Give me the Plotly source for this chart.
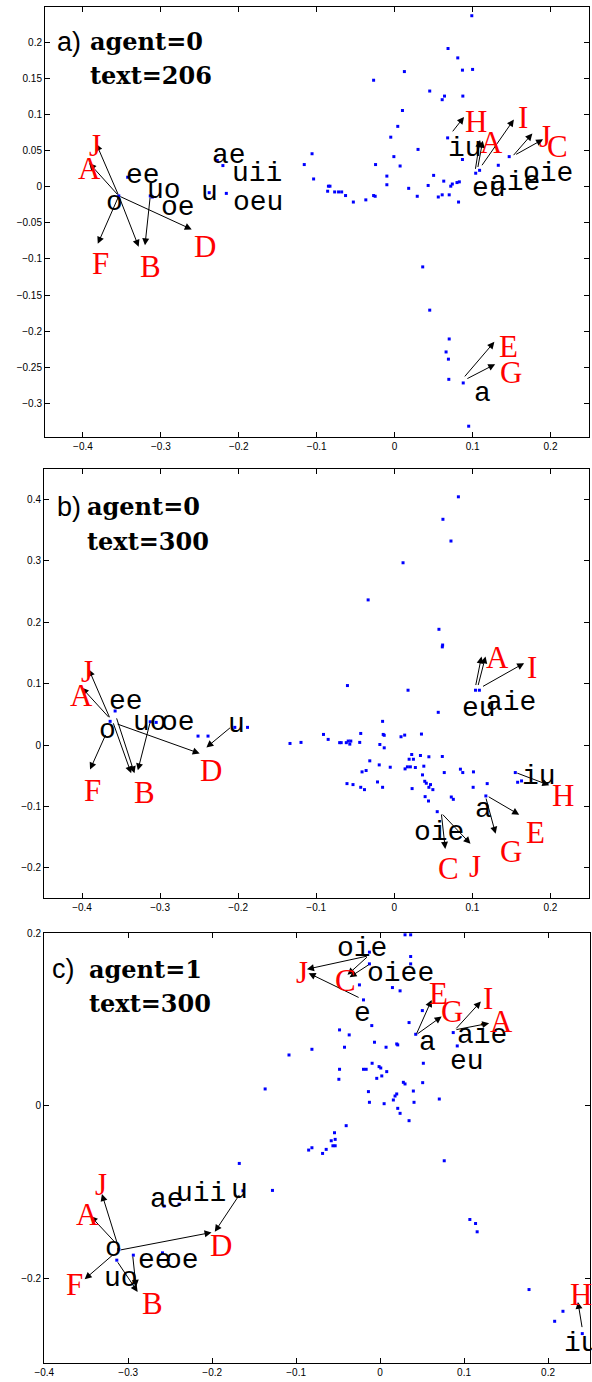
import plotly.graph_objects as go

# ---------------- DATA ----------------
# Panel a) agent=0 text=206
a_pts_x = [0.099, 0.0685, 0.081, 0.087, 0.100, 0.0125, -0.027, 0.045, 0.061, 0.064, 0.0875, 0.010, 0.004, -0.005,
           0.068, 0.030, -0.106, -0.001, -0.116, -0.0245, 0.087, 0.007, 0.133, 0.147, 0.109, 0.104, -0.104, -0.010,
           -0.010, 0.050, 0.063, 0.083, 0.080, 0.074, 0.072, 0.043, 0.018, -0.085, -0.083, -0.086, -0.077, -0.072,
           -0.068, -0.063, -0.053, -0.037, -0.027, -0.025, 0.029, 0.056, 0.061, 0.070, 0.082, 0.036, 0.045, 0.070,
           0.066, 0.069, 0.0695, 0.088, 0.095,
           -0.354, -0.3426, -0.3136, -0.311, -0.2277, -0.2204, -0.238, -0.216]
a_pts_y = [0.2375, 0.192, 0.179, 0.162, 0.163, 0.160, 0.148, 0.133, 0.121, 0.126, 0.126, 0.106, 0.084, 0.069,
           0.068, 0.052, 0.046, 0.042, 0.031, 0.031, 0.038, 0.029, 0.030, 0.042, 0.023, 0.019, 0.011, 0.015,
           0.003, 0.016, 0.008, 0.007, 0.006, 0.004, 0.001, 0.002, -0.002, 0.001, 0.001, -0.006, -0.007, -0.007,
           -0.007, -0.012, -0.021, -0.018, -0.012, -0.013, -0.013, -0.014, -0.011, -0.011, -0.021, -0.111, -0.171, -0.211,
           -0.229, -0.239, -0.267, -0.272, -0.332,
           -0.0125, 0.0134, -0.0125, -0.014, 0.0366, 0.0296, -0.008, -0.009]
a_lab_text = ["o", "ee", "uo", "oe", "ae", "uii", "u", "oeu", "iu", "eu", "aie", "oie", "a"]
a_lab_x = [-0.359, -0.323, -0.2957, -0.278, -0.2128, -0.1766, -0.2374, -0.1757, 0.090, 0.1216, 0.154, 0.197, 0.113]
a_lab_y = [-0.021, 0.016, -0.0056, -0.028, 0.044, 0.0185, -0.008, -0.021, 0.053, -0.002, 0.0056, 0.0185, -0.286]
a_red_text = ["J", "A", "F", "B", "D", "H", "A", "I", "J", "C", "E", "G"]
a_red_x = [-0.384, -0.392, -0.378, -0.3128, -0.2438, 0.105, 0.1246, 0.1647, 0.1935, 0.2086, 0.146, 0.1496]
a_red_y = [0.057, 0.025, -0.106, -0.111, -0.083, 0.091, 0.061, 0.096, 0.070, 0.0556, -0.221, -0.258]
a_arr_x0 = [-0.354, -0.354, -0.354, -0.354, -0.3136, -0.354, 0.073, 0.1034, 0.1065, 0.1108, 0.151, 0.154, 0.0884, 0.0914]
a_arr_y0 = [-0.0125, -0.0125, -0.0125, -0.0125, -0.0125, -0.0125, 0.075, 0.023, 0.0255, 0.028, 0.042, 0.044, -0.265, -0.267]
a_arr_x1 = [-0.383, -0.392, -0.381, -0.3285, -0.3204, -0.2604, 0.089, 0.1095, 0.113, 0.153, 0.1767, 0.1905, 0.128, 0.129]
a_arr_y1 = [0.060, 0.033, -0.079, -0.083, -0.081, -0.059, 0.097, 0.065, 0.064, 0.0935, 0.074, 0.066, -0.215, -0.246]

# Panel b) agent=0 text=300
b_pts_x = [-0.364, -0.3576, -0.3126, -0.305, -0.2514, -0.2386, -0.2043, -0.188, -0.1336,
           0.0821, 0.0623, 0.0726, 0.0112, -0.0335, 0.0572, 0.0619, 0.0615, -0.060, 0.0176, 0.104, 0.109, 0.0563,
           -0.1195, -0.015, -0.0907, -0.0847, -0.070, -0.068, -0.0615, -0.059, -0.0557, -0.057, -0.043, -0.0443,
           -0.0142, -0.0129, -0.0185, -0.0129, 0.0086, 0.0133, 0.0348, -0.0314, 0.0223, 0.019, 0.0245, 0.0335,
           0.0443, 0.0615, -0.0193, -0.0052, -0.0413, -0.0361, 0.0138, 0.0168, 0.0206, 0.027, 0.0378, 0.064,
           0.0847, 0.0877, 0.1014, 0.0361, 0.155, -0.0215, -0.015, -0.0606, -0.0529, -0.043, -0.0382, 0.039,
           0.041, 0.0464, 0.0443, 0.0494, 0.0228, 0.119, 0.101, 0.158, 0.163, 0.0395, 0.0438, 0.073, 0.0756,
           0.1173, 0.055]
b_pts_y = [0.0387, 0.0556, 0.038, 0.037, 0.0147, 0.0147, 0.0289, 0.0289, 0.0027,
           0.4044, 0.3678, 0.3324, 0.297, 0.2365, 0.1886, 0.163, 0.16, 0.097, 0.0894, 0.0894, 0.0894, 0.0534,
           0.0044, 0.0387, 0.0174, 0.0093, 0.004, 0.004, 0.004, 0.0066, 0.0066, 0.0016, 0.019, 0.0044,
           0.0174, 0.016, 0.001, -0.0044, 0.0136, 0.0163, 0.018, -0.0256, -0.0153, -0.023, -0.023, -0.0169,
           -0.019, -0.0185, -0.0322, -0.036, -0.0436, -0.0414, -0.0387, -0.0354, -0.0354, -0.0365, -0.0343, -0.0447,
           -0.0392, -0.0447, -0.0436, -0.0485, -0.0447, -0.06, -0.0687, -0.0627, -0.0643, -0.0687, -0.0725, -0.0589,
           -0.0621, -0.0643, -0.0687, -0.0725, -0.0708, -0.0627, -0.0687, -0.0605, -0.0583, -0.0839, -0.091, -0.0845, -0.0883,
           -0.0828, -0.1084]
b_lab_text = ["o", "ee", "uo", "oe", "u", "eu", "aie", "iu", "a", "oie"]
b_lab_x = [-0.368, -0.3443, -0.3135, -0.2771, -0.2021, 0.109, 0.149, 0.1848, 0.1139, 0.0567]
b_lab_y = [0.0245, 0.0708, 0.0365, 0.0365, 0.034, 0.060, 0.069, -0.0507, -0.105, -0.1428]
b_red_text = ["J", "A", "F", "B", "D", "A", "I", "H", "E", "G", "C", "J"]
b_red_x = [-0.394, -0.4004, -0.386, -0.320, -0.2343, 0.132, 0.177, 0.2157, 0.1813, 0.149, 0.0696, 0.104]
b_red_y = [0.12, 0.080, -0.0736, -0.077, -0.041, 0.1428, 0.127, -0.0828, -0.1428, -0.1738, -0.201, -0.1978]
b_arr_x0 = [-0.364, -0.364, -0.369, -0.3606, -0.3563, -0.3126, -0.3563, -0.2086, 0.104, 0.107, 0.1117, 0.1556, 0.119, 0.117, 0.0602, 0.0602]
b_arr_y0 = [0.043, 0.043, 0.019, 0.038, 0.046, 0.038, 0.035, 0.030, 0.0954, 0.0954, 0.0943, -0.0447, -0.0828, -0.0845, -0.1106, -0.1106]
b_arr_x1 = [-0.3914, -0.4004, -0.3897, -0.337, -0.3328, -0.3285, -0.2493, -0.2407, 0.1117, 0.1169, 0.1663, 0.1985, 0.16, 0.1298, 0.0653, 0.0976]
b_arr_y1 = [0.1237, 0.0937, -0.0398, -0.046, -0.046, -0.041, -0.0136, -0.0038, 0.1444, 0.1444, 0.1335, -0.0654, -0.1133, -0.1444, -0.169, -0.1608]

# Panel c) agent=1 text=300
c_pts_x = [-0.1085, -0.1369, -0.1677, -0.1633, -0.1282, -0.2572, -0.2394, -0.3112, -0.3136, -0.2939, -0.2592,
           0.0297, 0.0364, -0.0127, 0.0364, 0.0364, -0.0127, -0.0246, 0.0147, 0.0238, -0.0198, 0.0503, 0.0345,
           -0.0483, -0.0099, -0.0368, 0.0424, 0.0871, 0.0919, -0.0067, 0.0198, 0.021, 0.0071, -0.0424, -0.0812,
           -0.0095, -0.0012, 0.0008, 0.0515, -0.0483, -0.0198, -0.0166, 0.0079, -0.004, 0.002, -0.0491, 0.0277,
           0.0297, 0.0507, -0.0139, 0.0396, 0.0198, 0.0178, 0.0705, 0.0158, -0.0127, 0.0048, 0.0404, 0.021,
           0.0238, 0.0345, -0.0404, -0.0543, -0.0582, -0.0535, -0.0562, -0.0535, -0.0812, -0.0851, -0.0642,
           -0.0685, 0.0764, 0.1069, 0.1137, 0.1156, 0.1774, 0.2178, 0.2079, 0.2408]
c_pts_y = [0.0588, 0.0194, -0.067, -0.0987, -0.0983, -0.1165, -0.1142, -0.1669, -0.1792, -0.1734, -0.1707,
           0.1982, 0.1982, 0.1781, 0.173, 0.1645, 0.1645, 0.1401, 0.137, 0.1332, 0.1227, 0.1103, 0.0964,
           0.0879, 0.0929, 0.0821, 0.0828, 0.0848, 0.0693, 0.0736, 0.0716, 0.0705, 0.0678, 0.0678, 0.0654,
           0.0492, 0.0453, 0.0437, 0.0492, 0.0422, 0.0422, 0.0422, 0.0395, 0.0317, 0.0345, 0.0306, 0.0271,
           0.0252, 0.0267, 0.0163, 0.017, 0.0136, 0.0112, 0.0077, 0.0066, 0.0039, 0.0023, 0.0039, -0.0031,
           -0.0089, -0.0174, -0.0232, -0.0314, -0.0407, -0.0391, -0.0465, -0.0465, -0.0488, -0.0515, -0.0507,
           -0.0554, -0.0639, -0.132, -0.1367, -0.1463, -0.2133, -0.2385, -0.2501, -0.2644]
c_lab_text = ["ae", "uii", "u", "o", "ee", "oe", "uo", "oie", "oiee", "e", "a", "aie", "eu", "iu"]
c_lab_x = [-0.2544, -0.213, -0.1677, -0.3176, -0.2679, -0.2363, -0.3085, -0.021, 0.0242, -0.021, 0.0562, 0.1216, 0.1038, 0.239]
c_lab_y = [-0.1084, -0.1018, -0.098, -0.1657, -0.1792, -0.18, -0.2005, 0.182, 0.1529, 0.1072, 0.0728, 0.0809, 0.0511, -0.2753]
c_red_text = ["J", "A", "D", "F", "B", "J", "C", "E", "G", "I", "A", "H"]
c_red_x = [-0.3321, -0.348, -0.189, -0.3637, -0.271, -0.0931, -0.0416, 0.0693, 0.0859, 0.1283, 0.1446, 0.2396]
c_red_y = [-0.0914, -0.1258, -0.1626, -0.2071, -0.2292, 0.1545, 0.1448, 0.1297, 0.1092, 0.1247, 0.0972, -0.2187]
c_arr_x0 = [-0.3124, -0.3144, -0.3164, -0.3105, -0.1665, -0.3136, -0.2947, -0.0139, -0.0139, -0.0119, -0.0238, 0.0428, 0.0428, 0.0891, 0.0891, 0.2408]
c_arr_y0 = [-0.1618, -0.1599, -0.1715, -0.1676, -0.1018, -0.18, -0.1734, 0.1738, 0.1738, 0.1645, 0.1247, 0.0821, 0.0821, 0.0879, 0.0879, -0.2586]
c_arr_x1 = [-0.3313, -0.3448, -0.3519, -0.2008, -0.1969, -0.2888, -0.2907, -0.0871, -0.0388, -0.0364, -0.0851, 0.0614, 0.0733, 0.12, 0.1299, 0.2356]
c_arr_y1 = [-0.1026, -0.1281, -0.2013, -0.1471, -0.1463, -0.216, -0.2102, 0.1583, 0.1518, 0.149, 0.1537, 0.1227, 0.1034, 0.1208, 0.0956, -0.2276]

# panel titles
titles_tag = ["a)", "b)", "c)"]
titles_agent = ["agent=0", "agent=0", "agent=1"]
titles_text = ["text=206", "text=300", "text=300"]

# tick labels
x_ticks_ab = [-0.4, -0.3, -0.2, -0.1, 0, 0.1, 0.2]
x_ticktext = ["\u22120.4", "\u22120.3", "\u22120.2", "\u22120.1", "0", "0.1", "0.2"]
a_yticks = [-0.3, -0.25, -0.2, -0.15, -0.1, -0.05, 0, 0.05, 0.1, 0.15, 0.2]
a_yticktext = ["\u22120.3", "\u22120.25", "\u22120.2", "\u22120.15", "\u22120.1", "\u22120.05", "0", "0.05", "0.1", "0.15", "0.2"]
b_yticks = [-0.2, -0.1, 0, 0.1, 0.2, 0.3, 0.4]
b_yticktext = ["\u22120.2", "\u22120.1", "0", "0.1", "0.2", "0.3", "0.4"]
c_yticks = [-0.2, 0, 0.2]
c_yticktext = ["\u22120.2", "0", "0.2"]

# ---------------- FIGURE ----------------
W, H = 592, 1382

def dx(l, r):
    return [l / W, r / W]

def dy(t, b):
    return [1 - b / H, 1 - t / H]

def axis(domain, rng, tv, tt, anchor):
    return dict(domain=domain, range=rng, tickmode="array", tickvals=tv, ticktext=tt,
                ticks="inside", ticklen=5, tickwidth=1, tickcolor="black",
                showline=True, linecolor="black", linewidth=1, mirror="allticks",
                showgrid=False, zeroline=False, anchor=anchor, automargin=False,
                tickfont=dict(family="Liberation Sans, Arial, sans-serif", size=10, color="black"))

fig = go.Figure()

panels = [
    ("x", "y", a_pts_x, a_pts_y, a_lab_text, a_lab_x, a_lab_y, a_red_text, a_red_x, a_red_y,
     a_arr_x0, a_arr_y0, a_arr_x1, a_arr_y1),
    ("x2", "y2", b_pts_x, b_pts_y, b_lab_text, b_lab_x, b_lab_y, b_red_text, b_red_x, b_red_y,
     b_arr_x0, b_arr_y0, b_arr_x1, b_arr_y1),
    ("x3", "y3", c_pts_x, c_pts_y, c_lab_text, c_lab_x, c_lab_y, c_red_text, c_red_x, c_red_y,
     c_arr_x0, c_arr_y0, c_arr_x1, c_arr_y1),
]

for (xa, ya, px, py, lt, lx, ly, rt, rx, ry, ax0, ay0, ax1, ay1) in panels:
    fig.add_trace(go.Scatter(x=px, y=py, mode="markers", xaxis=xa, yaxis=ya,
                             marker=dict(symbol="square", size=3, color="#0000ff", line=dict(width=0)),
                             showlegend=False, hoverinfo="skip"))
    for x0, y0, x1, y1 in zip(ax0, ay0, ax1, ay1):
        fig.add_annotation(x=x1, y=y1, ax=x0, ay=y0, xref=xa, yref=ya, axref=xa, ayref=ya,
                           text="", showarrow=True, arrowhead=2, arrowsize=1.4, arrowwidth=1,
                           arrowcolor="black", standoff=0, startstandoff=0)
    for t, x, y in zip(lt, lx, ly):
        fig.add_annotation(x=x, y=y, xref=xa, yref=ya, text=t, showarrow=False,
                           xanchor="center", yanchor="middle",
                           font=dict(family="Liberation Mono, Courier New, monospace", size=28, color="black"))
    for t, x, y in zip(rt, rx, ry):
        fig.add_annotation(x=x, y=y, xref=xa, yref=ya, text=t, showarrow=False,
                           xanchor="center", yanchor="middle",
                           font=dict(family="Liberation Serif, Times New Roman, serif", size=31, color="#ff0000"))

# titles (pixel placement)
title_pos = [(55, 88, 41.5, 75.5), (55, 85, 506.5, 541.5), (50, 87, 969.5, 1003.5)]
for i, (xt, xa_, y1, y2) in enumerate(title_pos):
    fig.add_annotation(x=xt / W, y=1 - y1 / H, xref="paper", yref="paper", text=titles_tag[i],
                       showarrow=False, xanchor="left", yanchor="middle",
                       font=dict(family="Liberation Sans, Arial, sans-serif", size=27, color="black"))
    fig.add_annotation(x=xa_ / W, y=1 - y1 / H, xref="paper", yref="paper", text=titles_agent[i],
                       showarrow=False, xanchor="left", yanchor="middle",
                       font=dict(family="DejaVu Serif, serif", size=24, color="black", weight="bold"))
    fig.add_annotation(x=xa_ / W, y=1 - y2 / H, xref="paper", yref="paper", text=titles_text[i],
                       showarrow=False, xanchor="left", yanchor="middle",
                       font=dict(family="DejaVu Serif, serif", size=24, color="black", weight="bold"))

fig.update_layout(
    template="none",
    width=W, height=H, autosize=False,
    margin=dict(l=0, r=0, t=0, b=0, pad=0),
    paper_bgcolor="white", plot_bgcolor="white",
    xaxis=axis(dx(45, 589), [-0.4487, 0.2494], x_ticks_ab, x_ticktext, "y"),
    yaxis=axis(dy(7, 437), [-0.347, 0.2496], a_yticks, a_yticktext, "x"),
    xaxis2=axis(dx(44, 589), [-0.4487, 0.2494], x_ticks_ab, x_ticktext, "y2"),
    yaxis2=axis(dy(469, 898), [-0.249, 0.4497], b_yticks, b_yticktext, "x2"),
    xaxis3=axis(dx(44, 590), [-0.4003, 0.25], x_ticks_ab, x_ticktext, "y3"),
    yaxis3=axis(dy(933, 1363), [-0.2985, 0.2003], c_yticks, c_yticktext, "x3"),
    showlegend=False,
)

fig.write_html("out.html", config={"displayModeBar": False},
               post_script="document.body.style.margin='0';document.body.style.overflow='hidden';")
